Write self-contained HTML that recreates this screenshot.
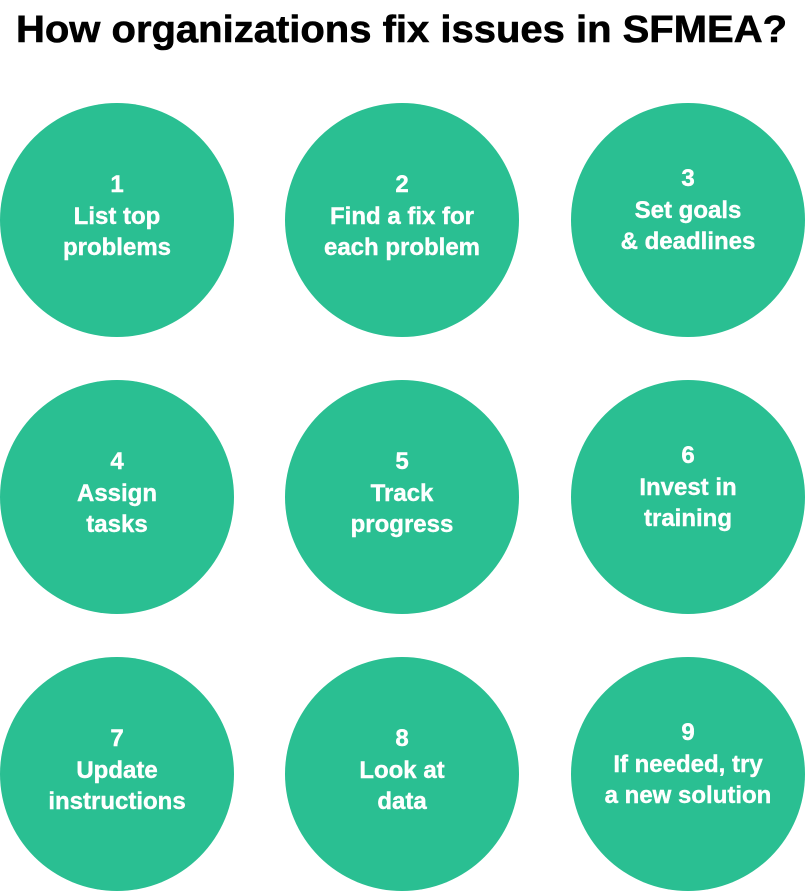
<!DOCTYPE html>
<html><head><meta charset="utf-8"><style>
html,body{margin:0;padding:0;background:#fff;}
svg{display:block}
text{font-family:"Liberation Sans",sans-serif;font-weight:bold;}
</style></head><body>
<svg width="806" height="892" viewBox="0 0 806 892" xmlns="http://www.w3.org/2000/svg">
<text x="16" y="42" font-size="38" fill="#000" stroke="#000" stroke-width="0.6" textLength="771" lengthAdjust="spacingAndGlyphs">How organizations fix issues in SFMEA?</text>
<g fill="#2abf92">
<circle cx="117" cy="220" r="117"/><circle cx="402" cy="220" r="117"/><circle cx="688" cy="220" r="117"/>
<circle cx="117" cy="497" r="117"/><circle cx="402" cy="497" r="117"/><circle cx="688" cy="497" r="117"/>
<circle cx="117" cy="774" r="117"/><circle cx="402" cy="774" r="117"/><circle cx="688" cy="774" r="117"/>
</g>
<g fill="#fff" stroke="#fff" stroke-width="0.4" font-size="24" text-anchor="middle">
<text x="117" y="192">1</text><text x="117" y="224">List top</text><text x="117" y="255">problems</text>
<text x="402" y="192">2</text><text x="402" y="224">Find a fix for</text><text x="402" y="255">each problem</text>
<text x="688" y="186">3</text><text x="688" y="218">Set goals</text><text x="688" y="249">&amp; deadlines</text>
<text x="117" y="469">4</text><text x="117" y="501">Assign</text><text x="117" y="532">tasks</text>
<text x="402" y="469">5</text><text x="402" y="501">Track</text><text x="402" y="532">progress</text>
<text x="688" y="463">6</text><text x="688" y="495">Invest in</text><text x="688" y="526">training</text>
<text x="117" y="746">7</text><text x="117" y="778">Update</text><text x="117" y="809">instructions</text>
<text x="402" y="746">8</text><text x="402" y="778">Look at</text><text x="402" y="809">data</text>
<text x="688" y="740">9</text><text x="688" y="772">If needed, try</text><text x="688" y="803">a new solution</text>
</g>
</svg>
</body></html>
